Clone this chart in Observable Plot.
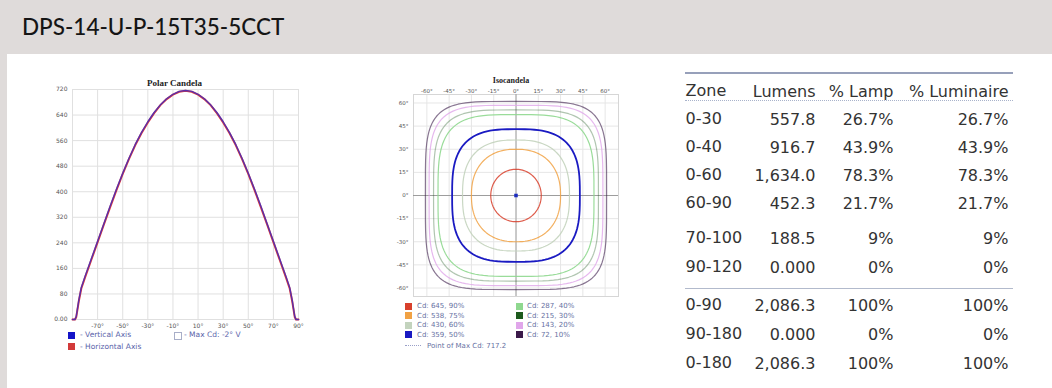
<!DOCTYPE html>
<html><head><meta charset="utf-8">
<script src="https://cdn.jsdelivr.net/npm/d3@7"></script>
<script src="https://cdn.jsdelivr.net/npm/@observablehq/plot@0.6"></script>
<style>
html,body{margin:0;padding:0;background:#fff;}
#root{position:relative;width:1052px;height:388px;overflow:hidden;background:#fff;}
.abs{position:absolute;}
.lg{position:absolute;font-family:"DejaVu Sans";white-space:nowrap;line-height:8px;}
.sq{position:absolute;width:7px;height:7px;}
</style>
</head><body>
<div id="root">
  <svg class="abs" style="left:0;top:0" width="1052" height="388">
    <rect x="0" y="0" width="1052" height="54" fill="#dfdbda"></rect>
    <rect x="0" y="54" width="7" height="334" fill="#dfdbda"></rect>
    <text x="22" y="35" font-family="Lato" font-size="22.5" font-weight="500" fill="#151515">DPS-14-U-P-15T35-5CCT</text>
  </svg>
  <div id="pc" class="abs" style="left:30px;top:70px"></div>
  <div id="iso" class="abs" style="left:370px;top:70px"></div>
  <div id="tblA" class="abs" style="left:670px;top:70px"></div>
  <div id="tblB" class="abs" style="left:670px;top:215px"></div>
  <div id="tblC" class="abs" style="left:670px;top:280px"></div>
  <div id="legends"></div>
  <div class="abs" style="left:685px;top:72px;width:328px;height:1.5px;background:#97a0ba"></div>
  <div class="abs" style="left:685px;top:100px;width:328px;height:0;border-top:1px dotted #a9b3cb"></div>
  <div class="abs" style="left:685px;top:288px;width:328px;height:1px;background:#b2bacc"></div>
</div>
<script>
// ---------- Polar candela data ----------
const candelaAngles = [-90,-88,-87,-85,-83,-80,-75,-70,-65,-60,-55,-50,-45,-40,-35,-30,-25,-20,-15,-10,-5,0,5,10,15,20,25,30,35,40,45,50,55,60,65,70,75,80,83,85,87,88,90];
const verticalCd   = [0,0,10,60,100,135,190,245,300,355,408,458,505,548,586,619,648,672,691,705,714,717,714,705,691,672,648,619,586,548,505,458,408,355,300,245,190,135,100,60,10,0,0];
const horizontalCd = [0,0,8,57,97,132,187,242,298,352,405,456,503,546,584,617,646,671,690,704,713,716,713,704,690,671,646,617,584,546,503,456,405,352,298,242,187,132,97,57,8,0,0];
const pcXTicks = [-70,-50,-30,-10,10,30,50,70,90];
const pcYTicks = [0,80,160,240,320,400,480,560,640,720];

// ---------- Isocandela data ----------
const isoTicks = [-60,-45,-30,-15,0,15,30,45,60];
const ringCd = [645,538,430,359,287,215,143,72];
const ringPct = [90,75,60,50,40,30,20,10];
const ringRadius = [17,30,36,43,52.5,55.5,58.5,61];
const ringSquareness = [2,2.3,2.6,3,3.6,4,4.3,4.6];
const ringColors = ["#d8402c","#f1a244","#c3d3bd","#1a1ac2","#8fd88f","#1d5a1d","#e0a6ea","#3b1a4a"];
const ringOpacity = [0.85,0.85,0.9,1,0.9,0.35,0.8,0.6];
const maxCd = 717.2;

// ---------- Table data ----------
const headers = ["Zone","Lumens","% Lamp","% Luminaire"];
const zones = ["0-30","0-40","0-60","60-90","70-100","90-120"];
const lumens = ["557.8","916.7","1,634.0","452.3","188.5","0.000"];
const lampPct = ["26.7%","43.9%","78.3%","21.7%","9%","0%"];
const luminairePct = ["26.7%","43.9%","78.3%","21.7%","9%","0%"];
const totalZones = ["0-90","90-180","0-180"];
const totalLumens = ["2,086.3","0.000","2,086.3"];
const totalLamp = ["100%","0%","100%"];
const totalLuminaire = ["100%","0%","100%"];

// ---------- Polar candela plot ----------
const rowsV = candelaAngles.map((a, i) => ({angle: a, cd: verticalCd[i]}));
const rowsH = candelaAngles.map((a, i) => ({angle: a, cd: horizontalCd[i]}));
const pc = Plot.plot({
  width: 280, height: 290,
  marginLeft: 42, marginRight: 12, marginTop: 19, marginBottom: 41,
  style: {fontFamily: "DejaVu Sans", fontSize: "6px", color: "#555", background: "transparent"},
  x: {domain: [-90, 90], label: null},
  y: {domain: [0, 720], label: null},
  marks: [
    Plot.ruleX([-90, ...pcXTicks], {stroke: "#e0e0e0"}),
    Plot.ruleY(pcYTicks, {stroke: "#e0e0e0"}),
    Plot.axisX(pcXTicks, {tickSize: 0, tickPadding: 4, tickFormat: d => d + "°", label: null}),
    Plot.axisY(pcYTicks, {tickSize: 0, tickPadding: 5, tickFormat: d => d === 0 ? "0.00" : String(d), label: null}),
    Plot.line(rowsH, {x: "angle", y: "cd", stroke: "#e03a3a", strokeWidth: 2}),
    Plot.line(rowsV, {x: "angle", y: "cd", stroke: "#2b2bd0", strokeWidth: 1.4, strokeOpacity: 0.75}),
    Plot.text(["Polar Candela"], {text: d => d, frameAnchor: "top", lineAnchor: "middle", dx: -11, dy: -6, fontFamily: "Liberation Serif", fontWeight: "bold", fontSize: 9, fill: "#222"})
  ]
});
document.getElementById("pc").appendChild(pc);

// ---------- Isocandela plot ----------
const ringMarks = ringCd.map((cd, k) => {
  const a = ringRadius[k], n = ringSquareness[k];
  const pts = d3.range(0, 361, 3).map(t => {
    const r = t * Math.PI / 180, c = Math.cos(r), s = Math.sin(r);
    return {x: a * Math.sign(c) * Math.pow(Math.abs(c), 2 / n), y: a * Math.sign(s) * Math.pow(Math.abs(s), 2 / n)};
  });
  return Plot.line(pts, {x: "x", y: "y", stroke: ringColors[k], strokeOpacity: ringOpacity[k], strokeWidth: ringPct[k] === 50 ? 1.8 : 1.2});
});
const iso = Plot.plot({
  width: 260, height: 235,
  marginLeft: 43, marginRight: 12, marginTop: 24, marginBottom: 9,
  style: {fontFamily: "DejaVu Sans", fontSize: "5.5px", color: "#555", background: "transparent"},
  x: {domain: [-69, 69], label: null},
  y: {domain: [-65.5, 65.5], label: null},
  marks: [
    Plot.ruleX(isoTicks, {stroke: "#e6e6e6"}),
    Plot.ruleY(isoTicks, {stroke: "#e6e6e6"}),
    Plot.frame({stroke: "#d6d6d6"}),
    Plot.ruleX([0], {stroke: "#8a8a8a", strokeWidth: 0.8}),
    Plot.ruleY([0], {stroke: "#8a8a8a", strokeWidth: 0.8}),
    Plot.axisX(isoTicks, {anchor: "top", tickSize: 0, tickPadding: 2, tickFormat: d => d + "°", label: null}),
    Plot.axisY(isoTicks, {anchor: "left", tickSize: 0, tickPadding: 5, tickFormat: d => d + "°", label: null}),
    ...ringMarks,
    Plot.dot([{x: 0, y: 0}], {x: "x", y: "y", symbol: "square", r: 2, fill: "#1b2bbf"}),
    Plot.text(["Isocandela"], {text: d => d, frameAnchor: "top", lineAnchor: "middle", dx: -5, dy: -14, fontFamily: "Liberation Serif", fontWeight: "bold", fontSize: 8, fill: "#222"})
  ]
});
document.getElementById("iso").appendChild(iso);

// ---------- Table ----------
function tablePlot(rows, height, mt, mb) {
  const valueStyle = {y: "key", frameAnchor: "left", textAnchor: "end", lineAnchor: "middle", fill: "#333", dy: 1.5};
  return Plot.plot({
    width: 360, height, marginTop: mt, marginBottom: mb, marginLeft: 0, marginRight: 0,
    style: {fontFamily: "DejaVu Sans", fontSize: "16px", background: "transparent"},
    y: {type: "point", domain: rows.map(r => r.key), padding: 0, axis: null},
    marks: [
      Plot.text(rows, {y: "key", text: "zone", frameAnchor: "left", textAnchor: "start", lineAnchor: "middle", dx: 15, fill: "#333"}),
      Plot.text(rows, {...valueStyle, text: "lumens", dx: 145}),
      Plot.text(rows, {...valueStyle, text: "lamp", dx: 223}),
      Plot.text(rows, {...valueStyle, text: "lum", dx: 338})
    ]
  });
}
const zoneRows = zones.map((z, i) => ({key: z, zone: z, lumens: lumens[i], lamp: lampPct[i], lum: luminairePct[i]}));
const rowsA = [{key: "h", zone: headers[0], lumens: headers[1], lamp: headers[2], lum: headers[3]}].concat(zoneRows.slice(0, 4));
const rowsB = zoneRows.slice(4);
const rowsC = totalZones.map((z, i) => ({key: z, zone: z, lumens: totalLumens[i], lamp: totalLamp[i], lum: totalLuminaire[i]}));
document.getElementById("tblA").appendChild(tablePlot(rowsA, 145, 19.4, 12.6));
document.getElementById("tblB").appendChild(tablePlot(rowsB, 65, 22.4, 13.6));
document.getElementById("tblC").appendChild(tablePlot(rowsC, 100, 24.4, 17.6));

// ---------- Legends ----------
const lg = document.getElementById("legends");
function sq(x, y, color, hollow) {
  const d = document.createElement("div");
  d.className = "sq";
  d.style.left = (x - 3.5) + "px"; d.style.top = (y - 3.5) + "px";
  if (hollow) { d.style.border = "1px solid " + color; d.style.width = "6px"; d.style.height = "6px"; d.style.background = "#fff"; }
  else d.style.background = color;
  lg.appendChild(d);
}
function txt(x, y, s, size, color) {
  const d = document.createElement("div");
  d.className = "lg";
  d.style.left = x + "px"; d.style.top = (y - 4) + "px";
  d.style.fontSize = size + "px"; d.style.color = color;
  d.textContent = s;
  lg.appendChild(d);
}
sq(71.5, 335, "#1414c8"); txt(80, 335, "- Vertical Axis", 7.5, "#5a63aa");
sq(71.5, 346.5, "#d23a3a"); txt(80, 346.5, "- Horizontal Axis", 7.5, "#5a63aa");
sq(177, 335, "#a8aec8", true); txt(184, 335, "- Max Cd: -2° V", 7.5, "#5a63aa");
const legRowY = [306, 315.5, 325, 334.5];
ringCd.forEach((cd, k) => {
  const col = k < 4 ? 0 : 1, row = k % 4;
  const sx = col === 0 ? 408 : 519, tx = col === 0 ? 417 : 527;
  sq(sx, legRowY[row], ringColors[k]);
  txt(tx, legRowY[row], "Cd: " + cd + ", " + ringPct[k] + "%", 7, "#6670a2");
});
const dotLine = document.createElement("div");
dotLine.className = "abs";
dotLine.style.cssText = "left:405px;top:345px;width:16px;height:0;border-top:1.5px dotted #9aa0c8";
lg.appendChild(dotLine);
txt(427, 345.7, "Point of Max Cd: " + maxCd, 7, "#6670a2");
</script>
</body></html>
